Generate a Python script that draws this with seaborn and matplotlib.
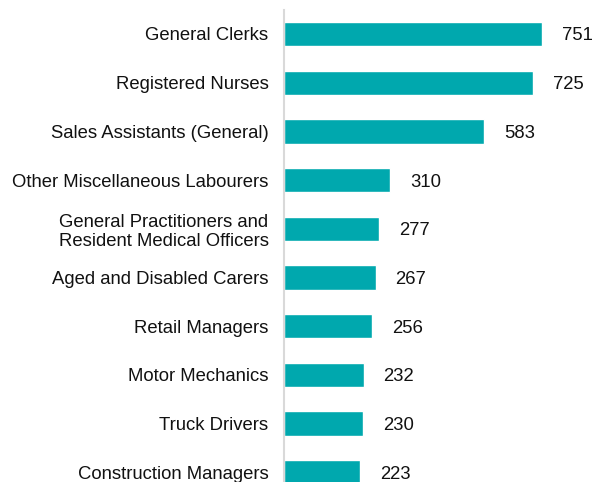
import matplotlib
matplotlib.use("Agg")
import matplotlib.pyplot as plt
import pandas as pd
import seaborn as sns

occupations = [
    "General Clerks",
    "Registered Nurses",
    "Sales Assistants (General)",
    "Other Miscellaneous Labourers",
    "General Practitioners and\nResident Medical Officers",
    "Aged and Disabled Carers",
    "Retail Managers",
    "Motor Mechanics",
    "Truck Drivers",
    "Construction Managers",
]
counts = [751, 725, 583, 310, 277, 267, 256, 232, 230, 223]

df = pd.DataFrame({"occupation": occupations, "count": counts})

sns.set_style("white")
plt.rcParams["font.family"] = ["Liberation Sans", "DejaVu Sans"]

fig = plt.figure(figsize=(5.95, 4.82), dpi=100)
ax = fig.add_axes([0.477, 0.0, 0.52, 0.979])

sns.barplot(data=df, y="occupation", x="count", orient="h",
            color="#00A8AE", saturation=1, width=0.5, ax=ax)

for i, v in enumerate(counts):
    ax.text(v + 58, i + 0.04, str(v), va="center", ha="left", fontsize=13.3, color="#111111")

ax.set_xlim(0, 900)
ax.set_ylim(9.2, -0.49)
ax.set_xlabel("")
ax.set_ylabel("")
ax.set_xticks([])
ax.tick_params(axis="y", length=0, pad=11, labelsize=13.3, labelcolor="#111111")
for lbl in ax.get_yticklabels():
    lbl.set_multialignment("center")

for s in ["top", "right", "bottom"]:
    ax.spines[s].set_visible(False)
ax.spines["left"].set_color("#D9D9D9")
ax.spines["left"].set_linewidth(1.5)

fig.savefig("out.png", dpi=100)
